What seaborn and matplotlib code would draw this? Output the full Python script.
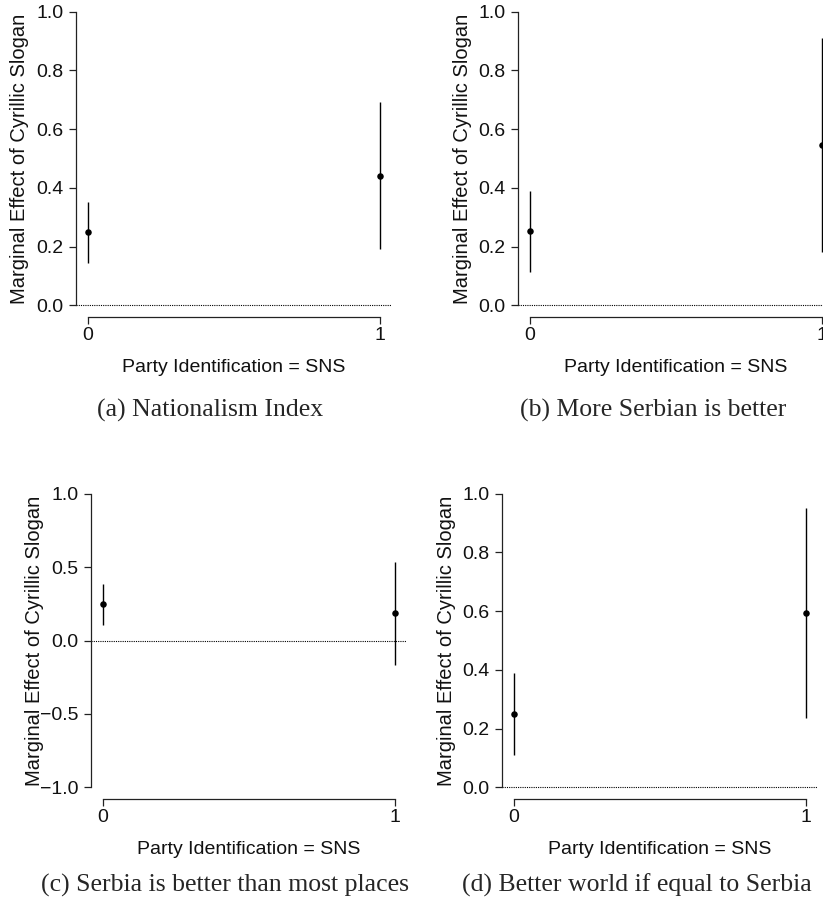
import matplotlib
matplotlib.use("Agg")
import matplotlib.pyplot as plt
import numpy as np
import pandas as pd
import seaborn as sns

# Marginal effect of Cyrillic slogan by SNS party identification (0 / 1)
party_id = [0, 1]

effect_a = [0.249, 0.441]
lower_a = [0.143, 0.191]
upper_a = [0.353, 0.691]

effect_b = [0.252, 0.545]
lower_b = [0.114, 0.181]
upper_b = [0.390, 0.912]

effect_c = [0.248, 0.184]
lower_c = [0.107, -0.168]
upper_c = [0.386, 0.534]

effect_d = [0.248, 0.594]
lower_d = [0.110, 0.237]
upper_d = [0.388, 0.951]

captions = [
    "(a) Nationalism Index",
    "(b) More Serbian is better",
    "(c) Serbia is better than most places",
    "(d) Better world if equal to Serbia",
]

sns.set_theme(style="ticks")
plt.rcParams["font.family"] = ["Liberation Sans", "DejaVu Sans"]
plt.rcParams["axes.unicode_minus"] = True

W, H = 823, 911
fig = plt.figure(figsize=(W / 100, H / 100), dpi=100)


def px_axes(left, top, right, bottom):
    return fig.add_axes([left / W, 1 - bottom / H, (right - left) / W, (bottom - top) / H])


panels = [
    dict(rect=(76, 0, 392, 317), eff=effect_a, lo=lower_a, hi=upper_a, yr=(0, 1),
         yt=[0, 0.2, 0.4, 0.6, 0.8, 1.0], cap=(210, 410)),
    dict(rect=(518, 0, 834, 317), eff=effect_b, lo=lower_b, hi=upper_b, yr=(0, 1),
         yt=[0, 0.2, 0.4, 0.6, 0.8, 1.0], cap=(653, 410)),
    dict(rect=(91, 482, 407, 799), eff=effect_c, lo=lower_c, hi=upper_c, yr=(-1, 1),
         yt=[-1.0, -0.5, 0.0, 0.5, 1.0], cap=(225, 885)),
    dict(rect=(502, 482, 818, 799), eff=effect_d, lo=lower_d, hi=upper_d, yr=(0, 1),
         yt=[0, 0.2, 0.4, 0.6, 0.8, 1.0], cap=(637, 885)),
]

for p, cap in zip(panels, captions):
    ax = px_axes(*p["rect"])
    df = pd.DataFrame({"x": party_id, "eff": p["eff"], "lo": p["lo"], "hi": p["hi"]})

    ax.axhline(0, color="black", lw=0.8, ls=(0, (1, 1)), zorder=1)
    ax.vlines(df["x"], df["lo"], df["hi"], color="black", lw=1.0, zorder=2)
    sns.scatterplot(data=df, x="x", y="eff", ax=ax, color="black", s=22,
                    edgecolor="black", linewidth=0, zorder=3)

    y0, y1 = p["yr"]
    pad = 0.04 * (y1 - y0)
    ax.set_xlim(-0.04, 1.04)
    ax.set_ylim(y0 - pad, y1 + pad)
    ax.set_xticks(party_id)
    ax.set_xticklabels(["0", "1"])
    ax.set_yticks(p["yt"])
    ax.set_yticklabels([f"{v:.1f}".replace("-", "\u2212") for v in p["yt"]])

    sns.despine(ax=ax)
    ax.spines["left"].set_bounds(y0, y1)
    ax.spines["bottom"].set_bounds(0, 1)
    for s in ("left", "bottom"):
        ax.spines[s].set_linewidth(0.9)
        ax.spines[s].set_color("#222222")
    ax.tick_params(axis="both", length=5, width=0.9, color="#222222",
                   labelsize=14, labelcolor="#111111")
    ax.tick_params(axis="y", pad=4)
    ax.tick_params(axis="x", pad=2)

    ax.set_xlabel("Party Identification = SNS", fontsize=14, color="#111111")
    ax.set_ylabel("Marginal Effect of Cyrillic Slogan", fontsize=14.5, color="#111111")
    ax.xaxis.set_label_coords(0.5, -50 / 317, transform=ax.transAxes)
    ax.yaxis.set_label_coords(-56 / 316, 0.5, transform=ax.transAxes)
    ax.xaxis.label.set_va("center")
    ax.yaxis.label.set_va("center")

    cx, cy = p["cap"]
    fig.text(cx / W, 1 - cy / H, cap, ha="center", va="center",
             family=["Liberation Serif", "DejaVu Serif"], fontsize=18.5)

fig.savefig("out.png", dpi=100)
